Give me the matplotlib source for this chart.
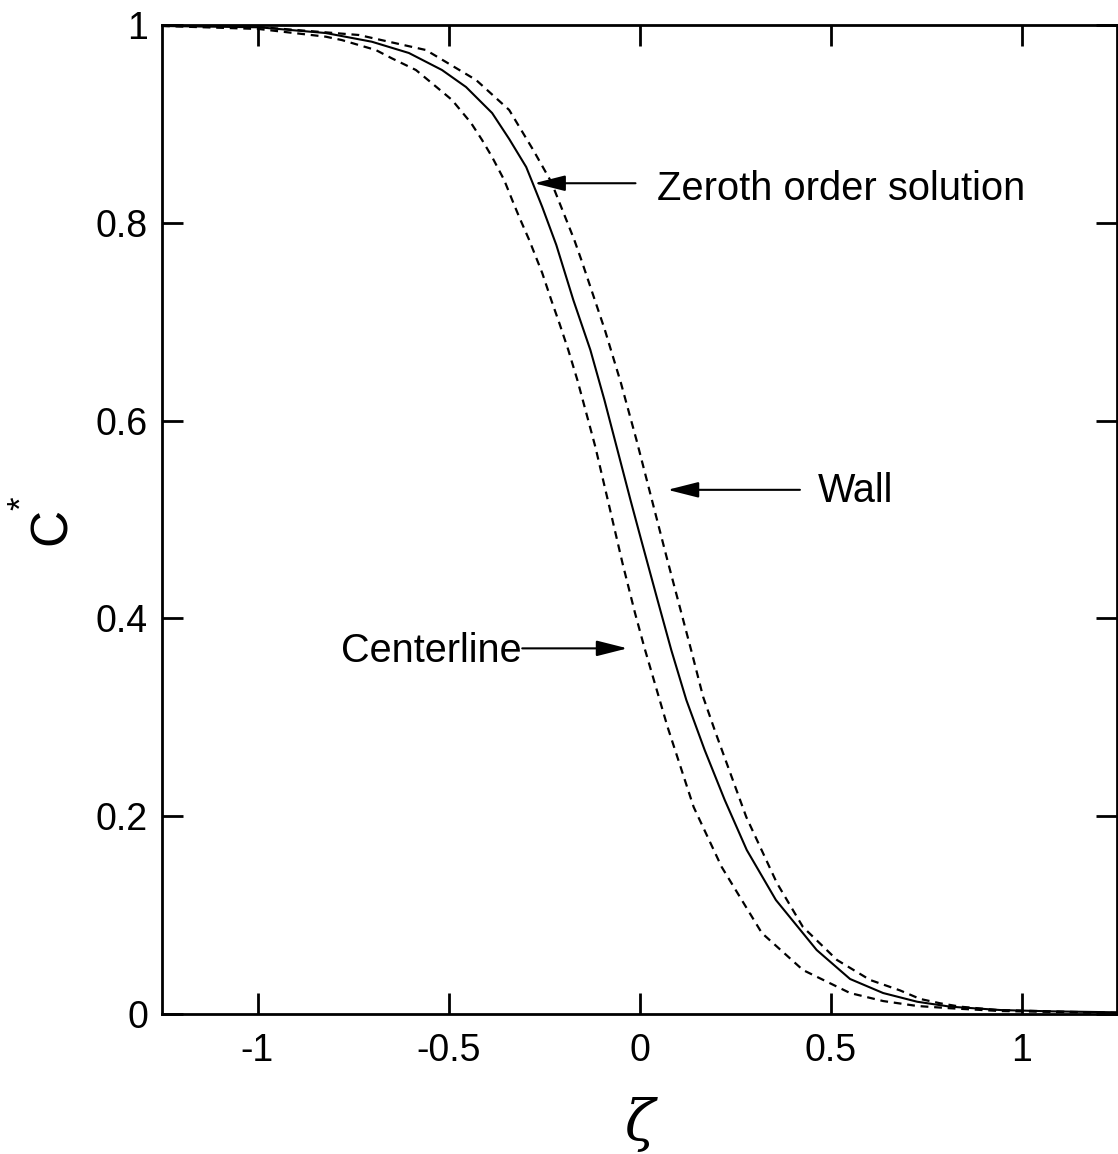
import matplotlib
matplotlib.use("Agg")
import matplotlib.pyplot as plt

plt.rcParams['font.family'] = ['Liberation Sans', 'DejaVu Sans']
plt.rcParams['axes.unicode_minus'] = False

# zeroth order solution (solid line)
zeta_zero = [-1.25, -0.9974, -0.8215, -0.7008, -0.6037, -0.5171, -0.4541, -0.3858,
             -0.3412, -0.2966, -0.2808, -0.2546, -0.2178, -0.1732, -0.1286, -0.0918,
             -0.0577, -0.0236, 0.0045, 0.0472, 0.0832, 0.1226, 0.1706, 0.2231,
             0.2808, 0.3570, 0.4638, 0.5512, 0.6378, 0.7270, 0.8136, 0.9449,
             1.0761, 1.25]
c_zero = [0.9990, 0.9977, 0.9919, 0.9831, 0.9717, 0.9545, 0.9373, 0.9110,
          0.8848, 0.8564, 0.8413, 0.8160, 0.7776, 0.7219, 0.6714, 0.6208,
          0.5703, 0.5197, 0.4793, 0.4186, 0.3680, 0.3175, 0.2669, 0.2164,
          0.1658, 0.1153, 0.0647, 0.0354, 0.0212, 0.0124, 0.0074, 0.0040,
          0.0027, 0.0017]

# centerline (left dashed line)
zeta_center = [-1.25, -0.9974, -0.8215, -0.7795, -0.6903, -0.6483, -0.5853, -0.5433,
               -0.4908, -0.4409, -0.4121, -0.3858, -0.3543, -0.3333, -0.3150, -0.2887,
               -0.2546, -0.2310, -0.2100, -0.1864, -0.1627, -0.1365, -0.1155, -0.0787,
               -0.0446, -0.0118, 0.0131, 0.0276, 0.0735, 0.1417, 0.2152, 0.3202,
               0.4278, 0.5512, 0.6378, 0.7270, 0.8136, 0.9449, 1.25]
c_center = [0.9990, 0.9960, 0.9882, 0.9848, 0.9747, 0.9663, 0.9545, 0.9411,
            0.9242, 0.9009, 0.8837, 0.8665, 0.8433, 0.8231, 0.8059, 0.7826,
            0.7492, 0.7219, 0.6987, 0.6714, 0.6411, 0.6036, 0.5733, 0.5126,
            0.4560, 0.4055, 0.3701, 0.3509, 0.2902, 0.2093, 0.1486, 0.0819,
            0.0445, 0.0212, 0.0131, 0.0081, 0.0058, 0.0030, 0.0010]

# wall (right dashed line)
zeta_wall = [-1.25, -0.9974, -0.7349, -0.5591, -0.4278, -0.3412, -0.2782, -0.2310,
             -0.1706, -0.1522, -0.0906, -0.0486, -0.0079, 0.0709, 0.1352, 0.1667,
             0.1995, 0.2795, 0.3596, 0.4278, 0.5171, 0.6037, 0.6824, 0.7349,
             0.7874, 0.8399, 0.9370, 1.25]
c_wall = [0.9995, 0.9980, 0.9899, 0.9747, 0.9444, 0.9141, 0.8736, 0.8413,
          0.7826, 0.7624, 0.6916, 0.6380, 0.5804, 0.4621, 0.3680, 0.3205,
          0.2841, 0.1992, 0.1325, 0.0880, 0.0546, 0.0344, 0.0238, 0.0152,
          0.0108, 0.0074, 0.0040, 0.0010]

xticks = [-1, -0.5, 0, 0.5, 1]
xtick_labels = ['-1', '-0.5', '0', '0.5', '1']
yticks = [0, 0.2, 0.4, 0.6, 0.8, 1]
ytick_labels = ['0', '0.2', '0.4', '0.6', '0.8', '1']

fig = plt.figure(figsize=(11.18, 11.54), dpi=100)
ax = fig.add_axes([162 / 1118, 1 - 1014 / 1154, 955 / 1118, 989 / 1154])

dash = (0, (3.5, 2.6))
ax.plot(zeta_zero, c_zero, color='black', lw=1.5)
ax.plot(zeta_center, c_center, color='black', lw=1.6, linestyle=dash)
ax.plot(zeta_wall, c_wall, color='black', lw=1.6, linestyle=dash)

ax.set_xlim(-1.25, 1.25)
ax.set_ylim(0, 1)
ax.set_xticks(xticks)
ax.set_xticklabels(xtick_labels)
ax.set_yticks(yticks)
ax.set_yticklabels(ytick_labels)
ax.tick_params(direction='in', length=15, width=2, labelsize=27,
               top=True, right=True)
ax.tick_params(axis='x', pad=14)
ax.tick_params(axis='y', pad=10)
for s in ax.spines.values():
    s.set_linewidth(2)

arrow = dict(arrowstyle='-|>,head_length=1.9,head_width=0.48', color='black',
             lw=1.5, shrinkA=0, shrinkB=0, mutation_scale=10)

# annotations
ax.annotate('', xy=(-0.2756, 0.840), xytext=(-0.0105, 0.840), arrowprops=arrow)
ax.text(0.047, 0.823, 'Zeroth order solution', fontsize=28.7, va='baseline', ha='left')

ax.annotate('', xy=(0.0735, 0.530), xytext=(0.42, 0.530), arrowprops=arrow)
ax.text(0.467, 0.5177, 'Wall', fontsize=28.5, va='baseline', ha='left')

ax.annotate('', xy=(-0.0315, 0.3697), xytext=(-0.307, 0.3697), arrowprops=arrow)
ax.text(-0.309, 0.3559, 'Centerline', fontsize=28.5, va='baseline', ha='right')

# y label C*
fig.text(52 / 1118, 1 - 526 / 1154, 'C', fontsize=37, rotation=90,
         ha='center', va='center')
fig.text(22 / 1118, 1 - 503 / 1154, '*', fontsize=25, rotation=90,
         ha='center', va='center')
# x label
fig.text(640 / 1118, 1 - 1124 / 1154, 'ζ', fontsize=40, family='DejaVu Serif',
         style='italic', ha='center', va='center')

fig.savefig('out.png', dpi=100)
